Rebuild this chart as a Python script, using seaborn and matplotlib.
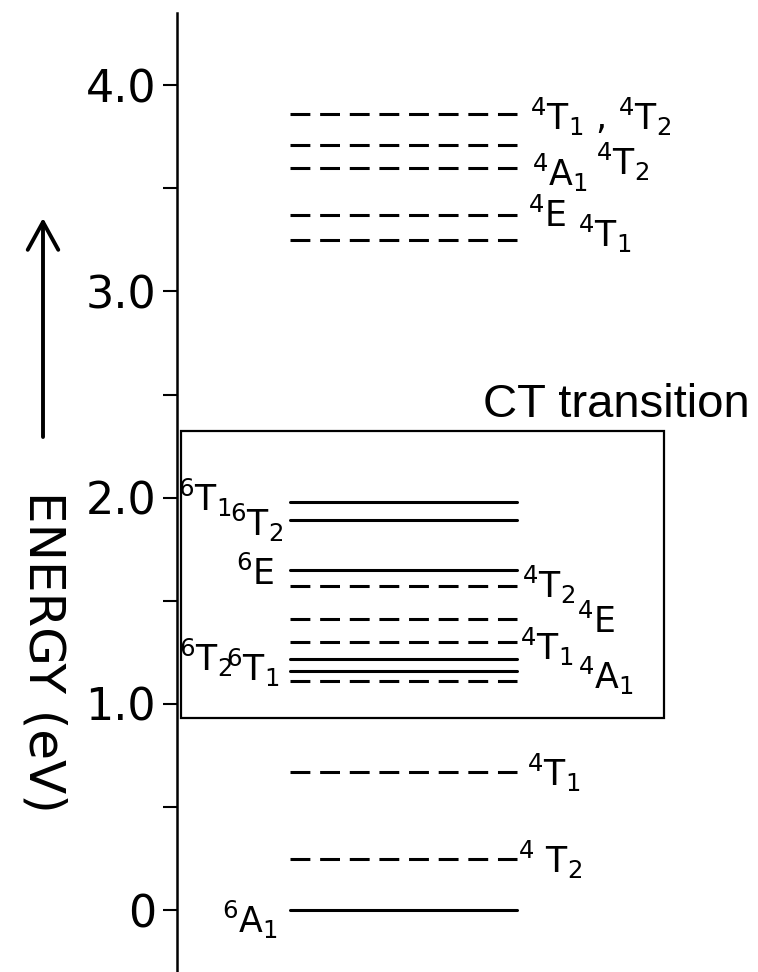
import matplotlib
matplotlib.use("Agg")
import matplotlib.pyplot as plt
from matplotlib.patches import Rectangle, FancyArrowPatch, ArrowStyle
import pandas as pd
import seaborn as sns

# ---- data -----------------------------------------------------------------
# Term energies in eV; "sextet" terms are drawn solid, "quartet" terms dashed
level_energy = [3.86, 3.71, 3.60, 3.37, 3.25,
                1.98, 1.89, 1.65, 1.57, 1.41, 1.30, 1.22, 1.16, 1.11,
                0.67, 0.25, 0.00]
level_kind = ["quartet"] * 5 + [
    "sextet", "sextet", "sextet", "quartet", "quartet", "quartet",
    "sextet", "sextet", "quartet",
] + ["quartet", "quartet", "sextet"]

# Term symbols, the level each one names, and the side of the level it sits on
label_text = [
    r"$^{4}\mathrm{T}_{1}$ , $^{4}\mathrm{T}_{2}$",
    r"$^{4}\mathrm{T}_{2}$",
    r"$^{4}\mathrm{A}_{1}$",
    r"$^{4}\mathrm{E}$",
    r"$^{4}\mathrm{T}_{1}$",
    r"$^{4}\mathrm{T}_{2}$",
    r"$^{4}\mathrm{E}$",
    r"$^{4}\mathrm{T}_{1}$",
    r"$^{4}\mathrm{A}_{1}$",
    r"$^{4}\mathrm{T}_{1}$",
    r"$^{4}$ $\mathrm{T}_{2}$",
    r"$^{6}\mathrm{T}_{1}$",
    r"$^{6}\mathrm{T}_{2}$",
    r"$^{6}\mathrm{E}$",
    r"$^{6}\mathrm{T}_{2}$",
    r"$^{6}\mathrm{T}_{1}$",
    r"$^{6}\mathrm{A}_{1}$",
]
label_level = [0, 1, 2, 3, 4, 8, 9, 10, 13, 14, 15, 5, 6, 7, 11, 12, 16]
label_side = ["right"] * 11 + ["left"] * 6

tick_values = [0, 1, 2, 3, 4]
tick_labels = ["0", "1.0", "2.0", "3.0", "4.0"]
minor_tick_values = [0.5, 1.5, 2.5, 3.5]

# ---- layout (x in pixels from the energy axis) ----------------------------
LEVEL_X = (113, 340)
# per-label pixel offset: (dx from the line end, drop of baseline below level)
label_offset = [(13, 16), (79, 30), (15, 18), (11, 12), (61, 7),
                (5, 12), (60, 14), (3, 18), (61, 8),
                (10, 14), (1, 14),
                (-58, 9), (-7, 16), (-15, 15), (-58, 12), (-10, 10), (-12, 23)]
BOX = (4, 0.931, 483, 1.391)  # x, y, width, height
LABEL_SIZE = 25

sns.set_theme(style="ticks")
plt.rcParams["font.family"] = ["DejaVu Sans"]
plt.rcParams["mathtext.fontset"] = "dejavusans"
plt.rcParams["mathtext.default"] = "regular"

W, H = 758, 972
fig = plt.figure(figsize=(W / 100, H / 100), dpi=100)
ax = fig.add_axes([177 / W, 0, (W - 177) / W, (H - 13) / H])
ax.set_xlim(0, W - 177)
ax.set_ylim(-0.30, 4.35)

rows = []
for i, (e, k) in enumerate(zip(level_energy, level_kind)):
    for x in LEVEL_X:
        rows.append({"level": i, "x": x, "energy": e, "kind": k})
df = pd.DataFrame(rows)

sns.lineplot(data=df, x="x", y="energy", units="level", estimator=None,
             style="kind", dashes={"sextet": "", "quartet": (6.5, 3.2)},
             color="black", linewidth=2.2, legend=False, sort=False, ax=ax)

for text, idx, side, (dx, dy) in zip(label_text, label_level, label_side,
                                     label_offset):
    x_anchor = LEVEL_X[1] if side == "right" else LEVEL_X[0]
    ax.annotate(text, xy=(x_anchor, level_energy[idx]), xytext=(dx, -dy),
                textcoords="offset pixels",
                ha="left" if side == "right" else "right",
                va="baseline", fontsize=LABEL_SIZE, color="black")

# highlighted charge-transfer region
ax.add_patch(Rectangle(BOX[:2], BOX[2], BOX[3], fill=False,
                       edgecolor="black", linewidth=1.6))
ax.text(306, 2.39, "CT transition", fontsize=34, family="Liberation Sans",
        ha="left", va="baseline", color="black")

# axis styling
for s in ("top", "right", "bottom"):
    ax.spines[s].set_visible(False)
ax.spines["left"].set_linewidth(1.8)
ax.spines["left"].set_color("black")
ax.set_xticks([])
ax.set_xlabel("")
ax.set_ylabel("")
ax.set_yticks(tick_values)
ax.set_yticklabels(tick_labels)
ax.set_yticks(minor_tick_values, minor=True)
ax.tick_params(axis="y", which="both", direction="out", length=10,
               width=1.5, pad=5, labelsize=32, color="black",
               labelcolor="black")
ax.set_facecolor("white")

# rotated axis title with an upward arrow above it
fig.text(43 / W, 1 - 652 / H, "ENERGY (eV)", rotation=-90, ha="center",
         va="center", fontsize=36, color="black")
arrow = FancyArrowPatch((43 / W, 1 - 437 / H), (43 / W, 1 - 218 / H),
                        transform=fig.transFigure,
                        arrowstyle=ArrowStyle("->", head_length=20,
                                              head_width=11),
                        linewidth=2.8, color="black", shrinkA=0, shrinkB=0)
fig.add_artist(arrow)

fig.savefig("out.png", dpi=100, facecolor="white")
